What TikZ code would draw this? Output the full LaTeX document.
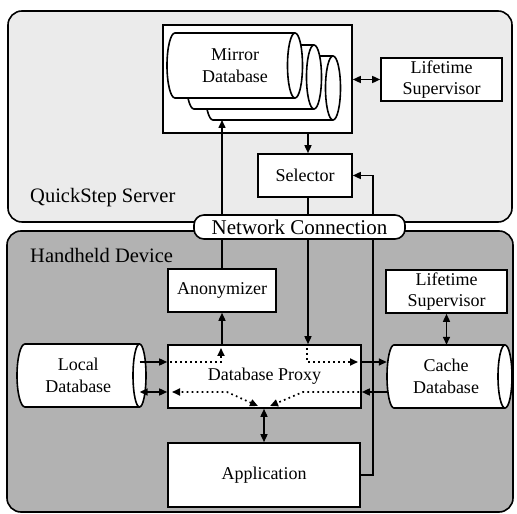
\documentclass[tikz,border=0pt]{standalone}
\usepackage{fontspec}
\setmainfont{Liberation Serif}
\usetikzlibrary{arrows.meta,calc}
\newcommand\mycyl[7]{% L R B T ry rxl rxr
  \filldraw[fill=white,line width=1.6pt] (#2,#4) -- (#1,#4) arc[start angle=90,end angle=270,x radius=#6,y radius=#5] -- (#2,#3) arc[start angle=-90,end angle=90,x radius=#7,y radius=#5] -- cycle;
  \draw[line width=1.6pt] (#2,#4) arc[start angle=90,end angle=270,x radius=#7,y radius=#5];
}
\begin{document}
\begin{tikzpicture}[x=1pt,y=1pt,
  box/.style={draw,line width=1.6pt,fill=white,inner sep=0pt,align=center,font=\fontsize{18}{21.5}\selectfont},
  txt/.style={inner sep=0pt,align=center,font=\fontsize{18}{21.5}\selectfont},
  tip/.tip={Triangle[length=8pt,width=7pt]},
  arr/.style={line width=1.5pt,-tip},
  darr/.style={line width=1.5pt,tip-tip},
  dots/.style={line width=1.7pt,dash pattern=on 1.7pt off 3.3pt,-tip},
  panel/.style={draw,line width=1.6pt,rounded corners=14pt},
  lbl/.style={font=\fontsize{20.5}{24}\selectfont,anchor=west,inner sep=0pt}]
\useasboundingbox (0,0) rectangle (517,514);
% panels
\path[panel,fill=black!8] (8,292) rectangle (512,503);
\path[panel,fill=black!30] (7,2) rectangle (513,283);
\node[lbl] (srv) at (30,316) {QuickStep Server};
\node[lbl] (dev) at (30,259) {Handheld Device};
% mirror database
\node[box,minimum width=189,minimum height=108] (mirrorbox) at (257.5,435) {};
\mycyl{213}{333}{394}{458}{32}{8}{7.5}
\mycyl{194}{314}{405}{469}{32}{8}{7.5}
\mycyl{175}{295}{416}{481}{32.5}{8}{7.5}
\coordinate (cylbot) at (273,394);
\node[txt] (mirror) at (235,448.5) {Mirror\\Database};
\node[box,minimum width=121,minimum height=43] (ls1) at (441.5,434.5) {Lifetime\\Supervisor};
\node[box,minimum width=94,minimum height=43] (selector) at (305,338.5) {Selector};
% handheld
\node[box,minimum width=108,minimum height=43] (anon) at (222,223.5) {Anonymizer};
\node[box,minimum width=193,minimum height=63] (proxy) at (264.5,137.5) {Database Proxy};
\node[box,minimum width=192,minimum height=64] (app) at (264,39) {Application};
\mycyl{25}{139.5}{107}{170}{31.5}{8}{6.5}
\node[txt,minimum width=122.5,minimum height=63] (localdb) at (78.25,138.5) {Local\\Database};
\mycyl{394}{505}{106}{169}{31.5}{7}{7}
\node[txt,minimum width=118,minimum height=63] (cachedb) at (446,137.5) {Cache\\Database};
\node[box,minimum width=121,minimum height=43] (ls2) at (446.5,222.5) {Lifetime\\Supervisor};
% connectors
\draw[darr] (ls1.west -| mirrorbox.east) -- (ls1.west);
\draw[arr] (mirrorbox.south -| 308,0) -- (selector.north -| 308,0);
\draw[arr] (anon.north) -- (anon.north |- cylbot);
\draw[arr] (selector.south -| 308,0) -- (proxy.north -| 308,0);
\draw[arr] (app.east) -- (app.east -| 373,0) |- (selector.east);
\draw[arr] (proxy.north -| anon) -- (anon.south);
\draw[arr] (localdb.east |- 0,152) -- (proxy.west |- 0,152);
\draw[darr] (localdb.east |- 0,122) -- (proxy.west |- 0,122);
\draw[arr] (proxy.east |- 0,152) -- (cachedb.west |- 0,152);
\draw[arr] (cachedb.west |- 0,122) -- (proxy.east |- 0,122);
\draw[darr] (ls2.south) -- (ls2.south |- cachedb.north);
\draw[darr] (proxy.south -| app.north) -- (app.north);
% dotted paths inside the proxy
\coordinate (p1) at (170,152);
\coordinate (p2) at (221,152);
\coordinate (p3) at (221,166);
\coordinate (q1) at (307,166);
\coordinate (q2) at (307,152);
\coordinate (q3) at (358,152);
\coordinate (r1) at (258,108);
\coordinate (r2) at (227,122);
\coordinate (r3) at (172,122);
\coordinate (s1) at (359,122);
\coordinate (s2) at (303,122);
\coordinate (s3) at (270,108);
\draw[dots] (p1) -- (p2) -- (p3);
\draw[dots] (q1) -- (q2) -- (q3);
\draw[dots,tip-tip] (r1) -- (r2) -- (r3);
\draw[dots] (s1) -- (s2) -- (s3);
% network connection
\node[draw,line width=1.6pt,rounded corners=10pt,fill=white,inner sep=0pt,minimum width=211,minimum height=24,font=\fontsize{21}{24}\selectfont] (net) at (299.5,287) {Network Connection};
\end{tikzpicture}
\end{document}
